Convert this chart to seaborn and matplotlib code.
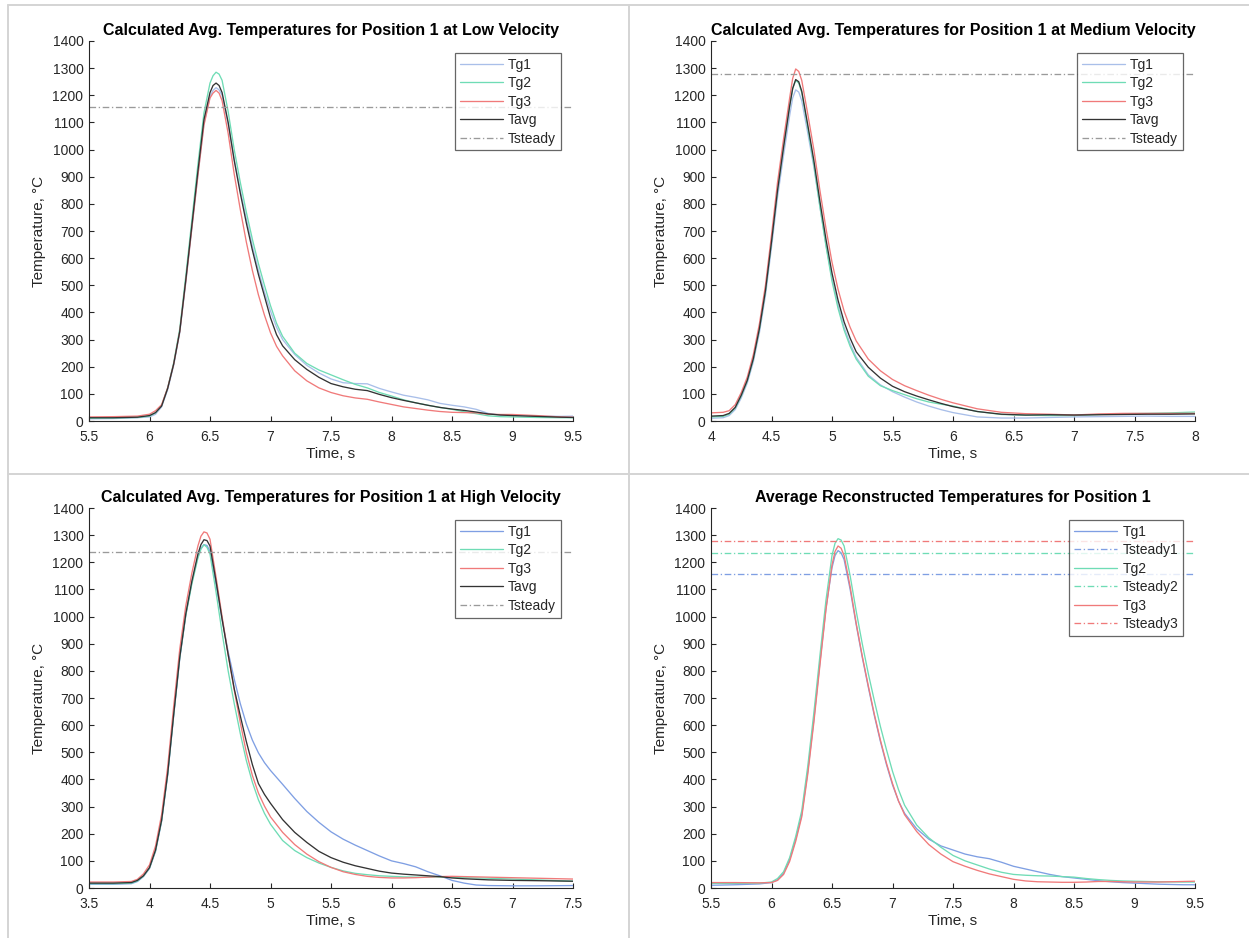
import matplotlib
matplotlib.use("Agg")
import matplotlib.pyplot as plt
from matplotlib.lines import Line2D
from matplotlib.ticker import FuncFormatter, MultipleLocator
import seaborn as sns

# ---------------- data ----------------
# Low velocity (top-left)
t_low = [5.5, 5.7, 5.9, 6.0, 6.05, 6.1, 6.15, 6.2, 6.25, 6.3, 6.35, 6.4, 6.45, 6.5, 6.525, 6.55,
         6.575, 6.6, 6.65, 6.7, 6.75, 6.8, 6.85, 6.9, 6.95, 7.0, 7.05, 7.1, 7.2, 7.3, 7.4, 7.5,
         7.6, 7.7, 7.8, 7.9, 8.0, 8.1, 8.2, 8.3, 8.4, 8.5, 8.6, 8.7, 8.8, 8.9, 9.0, 9.2, 9.4, 9.5]
low_tg1 = [8, 9, 12, 15, 25, 52, 115, 205, 325, 510, 710, 905, 1095, 1195, 1218, 1228,
           1220, 1200, 1095, 965, 850, 745, 645, 555, 475, 405, 345, 300, 245, 205, 177, 155,
           141, 138, 137, 120, 107, 95, 87, 78, 65, 58, 52, 43, 28, 22, 21, 18, 17, 18]
low_tg2 = [10, 11, 13, 18, 30, 57, 122, 215, 340, 535, 740, 945, 1135, 1245, 1272, 1285,
           1278, 1255, 1140, 1000, 880, 770, 670, 580, 500, 425, 360, 312, 250, 212, 188, 170,
           152, 135, 122, 105, 92, 78, 67, 58, 50, 43, 34, 27, 19, 16, 15, 13, 12, 12]
low_tg3 = [15, 16, 18, 25, 38, 60, 122, 210, 330, 515, 710, 905, 1090, 1190, 1208, 1218,
           1208, 1180, 1060, 910, 780, 660, 555, 465, 390, 325, 275, 240, 185, 148, 122, 105,
           93, 85, 80, 70, 61, 52, 46, 40, 35, 32, 31, 30, 25, 24, 24, 20, 15, 14]
low_tavg = [12, 12, 14, 20, 31, 55, 120, 210, 330, 520, 720, 920, 1110, 1210, 1236, 1245,
            1236, 1210, 1100, 960, 840, 730, 630, 540, 460, 380, 318, 277, 226, 190, 161, 138,
            126, 117, 112, 98, 86, 76, 67, 58, 50, 44, 39, 33, 26, 22, 20, 17, 14, 13]
low_tsteady = 1158

# Medium velocity (top-right)
t_med = [4.0, 4.1, 4.15, 4.2, 4.25, 4.3, 4.35, 4.4, 4.45, 4.5, 4.55, 4.6, 4.65, 4.675, 4.7,
         4.725, 4.75, 4.8, 4.85, 4.9, 4.95, 5.0, 5.05, 5.1, 5.15, 5.2, 5.3, 5.4, 5.5, 5.6,
         5.7, 5.8, 5.9, 6.0, 6.2, 6.4, 6.6, 6.8, 7.0, 7.2, 7.4, 7.6, 7.8, 8.0]
med_tg1 = [10, 12, 20, 42, 85, 140, 218, 325, 462, 640, 825, 980, 1125, 1190, 1220,
           1212, 1180, 1060, 935, 790, 650, 525, 425, 345, 285, 235, 170, 133, 108, 88,
           70, 55, 42, 31, 15, 11, 11, 13, 15, 16, 17, 18, 17, 17]
med_tg2 = [15, 17, 25, 48, 92, 148, 228, 338, 478, 660, 850, 1010, 1160, 1225, 1255,
           1245, 1210, 1080, 945, 790, 645, 515, 415, 335, 275, 228, 165, 130, 112, 97,
           82, 70, 62, 55, 35, 24, 21, 20, 20, 24, 27, 28, 30, 33]
med_tg3 = [30, 32, 38, 60, 105, 162, 245, 358, 500, 685, 880, 1040, 1190, 1262, 1297,
           1288, 1255, 1130, 1000, 850, 710, 585, 485, 405, 345, 295, 228, 185, 153, 130,
           112, 95, 80, 67, 45, 32, 27, 25, 22, 26, 28, 28, 28, 28]
med_tavg = [18, 20, 28, 50, 95, 150, 230, 340, 480, 660, 850, 1010, 1160, 1225, 1258,
            1250, 1215, 1090, 960, 810, 670, 545, 445, 365, 305, 255, 198, 158, 128, 108,
            92, 78, 65, 53, 35, 25, 22, 23, 22, 23, 24, 25, 25, 26]
med_tsteady = 1277

# High velocity (bottom-left)
t_high = [3.5, 3.7, 3.85, 3.9, 3.95, 4.0, 4.05, 4.1, 4.15, 4.2, 4.25, 4.3, 4.35, 4.4, 4.425,
          4.45, 4.475, 4.5, 4.55, 4.6, 4.65, 4.7, 4.75, 4.8, 4.85, 4.9, 4.95, 5.0, 5.1, 5.2,
          5.3, 5.4, 5.5, 5.6, 5.7, 5.8, 5.9, 6.0, 6.1, 6.2, 6.3, 6.4, 6.5, 6.6, 6.7, 6.8,
          7.0, 7.2, 7.5]
high_tg1 = [14, 14, 16, 24, 42, 72, 135, 245, 415, 635, 845, 1005, 1125, 1222, 1252,
            1265, 1262, 1240, 1120, 990, 870, 770, 680, 605, 545, 498, 462, 433, 382, 330,
            282, 242, 207, 180, 158, 138, 118, 100, 90, 78, 60, 45, 28, 18, 11, 9,
            8, 8, 9]
high_tg2 = [16, 16, 18, 26, 44, 74, 138, 248, 420, 640, 850, 1005, 1120, 1215, 1248,
            1265, 1255, 1230, 1090, 940, 800, 680, 570, 470, 390, 325, 275, 235, 175, 138,
            112, 92, 76, 63, 54, 49, 45, 43, 41, 40, 40, 40, 39, 38, 37, 36,
            33, 30, 25]
high_tg3 = [22, 22, 24, 32, 52, 85, 155, 270, 445, 670, 880, 1040, 1160, 1260, 1296,
            1312, 1308, 1285, 1145, 1000, 860, 730, 610, 500, 415, 350, 302, 262, 205, 160,
            125, 97, 76, 60, 50, 43, 39, 37, 37, 38, 40, 42, 43, 42, 41, 40,
            38, 36, 33]
high_tavg = [18, 18, 20, 28, 45, 75, 140, 250, 420, 640, 850, 1010, 1130, 1230, 1265,
             1283, 1280, 1260, 1130, 990, 860, 735, 635, 540, 455, 385, 345, 312, 252, 205,
             168, 135, 112, 95, 82, 72, 62, 55, 51, 48, 45, 42, 37, 34, 32, 30,
             28, 27, 25]
high_tsteady = 1237

# Average reconstructed (bottom-right)
t_rec = t_low
rec_tg1 = [10, 12, 15, 20, 30, 55, 105, 180, 270, 430, 620, 830, 1030, 1180, 1225, 1243,
           1235, 1210, 1100, 970, 850, 740, 635, 540, 455, 380, 320, 275, 218, 180, 155, 140,
           125, 115, 108, 95, 80, 70, 60, 50, 42, 37, 32, 27, 23, 20, 18, 14, 12, 12]
rec_tg2 = [17, 17, 18, 22, 35, 60, 112, 190, 285, 450, 645, 855, 1060, 1225, 1270, 1287,
           1282, 1260, 1150, 1020, 900, 790, 690, 595, 510, 430, 362, 305, 232, 185, 150, 120,
           100, 85, 70, 58, 50, 47, 45, 44, 42, 40, 35, 31, 28, 26, 25, 23, 22, 22]
rec_tg3 = [20, 20, 19, 20, 28, 50, 98, 172, 262, 420, 610, 820, 1025, 1190, 1240, 1260,
           1252, 1225, 1110, 975, 855, 745, 640, 545, 460, 385, 320, 270, 208, 160, 125, 97,
           80, 65, 52, 42, 32, 26, 23, 22, 21, 21, 22, 24, 24, 23, 22, 22, 24, 25]
rec_tsteady = [1157, 1236, 1277]

titles = ["Calculated Avg. Temperatures for Position 1 at Low Velocity",
          "Calculated Avg. Temperatures for Position 1 at Medium Velocity",
          "Calculated Avg. Temperatures for Position 1 at High Velocity",
          "Average Reconstructed Temperatures for Position 1"]
xlabel = "Time, s"
ylabel = "Temperature, °C"

# ---------------- style ----------------
sns.set_theme(style="white")
plt.rcParams["font.family"] = ["Liberation Sans", "DejaVu Sans"]
TXT = "#262626"
C_TG1_PALE = "#a9bfe9"
C_TG1 = "#7f9fe3"
C_TG2 = "#6fdcb5"
C_TG3 = "#f07a7a"
C_AVG = "#333333"
C_ST = "#9a9a9a"
LW = 0.95
DASHDOT = (0, (5, 2, 1, 2))

W, H = 1249, 938
fig = plt.figure(figsize=(W / 100, H / 100), dpi=100)
fig.patch.set_facecolor("white")


def make_ax(left, top, xlim):
    ax = fig.add_axes([left / W, 1 - (top + 380) / H, 484 / W, 380 / H])
    ax.set_xlim(*xlim)
    ax.set_ylim(0, 1400)
    ax.yaxis.set_major_locator(MultipleLocator(100))
    ax.xaxis.set_major_locator(MultipleLocator(0.5))
    ax.xaxis.set_major_formatter(FuncFormatter(lambda v, p: f"{v:g}"))
    for s in ["top", "right"]:
        ax.spines[s].set_visible(False)
    for s in ["left", "bottom"]:
        ax.spines[s].set_color(TXT)
        ax.spines[s].set_linewidth(0.8)
    ax.tick_params(direction="in", length=3.5, width=0.8, colors=TXT,
                   labelsize=10, left=True, bottom=True)
    ax.tick_params(axis="y", pad=4)
    ax.tick_params(axis="x", pad=6.5)
    return ax


def finish(ax, title):
    ax.set_title(title, fontsize=11.5, fontweight="bold", color="black", pad=4)
    ax.set_xlabel(xlabel, fontsize=11, color=TXT, labelpad=2)
    ax.set_ylabel(ylabel, fontsize=11, color=TXT, labelpad=5)
    leg = ax.legend(loc="upper right", bbox_to_anchor=(1 - 12 / 484, 1 - 12 / 380),
                    borderaxespad=0, fancybox=False, frameon=True, fontsize=10,
                    handlelength=3.1, handletextpad=0.4, labelspacing=0.32,
                    borderpad=0.35)
    leg.get_frame().set_edgecolor("#404040")
    leg.get_frame().set_linewidth(0.9)
    for txt in leg.get_texts():
        txt.set_color(TXT)


def single_panel(ax, t, tg1, tg2, tg3, tavg, tsteady, title, c1):
    sns.lineplot(x=t, y=tg1, ax=ax, color=c1, lw=LW, label="Tg1")
    sns.lineplot(x=t, y=tg2, ax=ax, color=C_TG2, lw=LW, label="Tg2")
    sns.lineplot(x=t, y=tg3, ax=ax, color=C_TG3, lw=LW, label="Tg3")
    sns.lineplot(x=t, y=tavg, ax=ax, color=C_AVG, lw=LW, label="Tavg")
    ax.axhline(tsteady, color=C_ST, lw=LW, ls=DASHDOT, label="Tsteady")
    finish(ax, title)


ax1 = make_ax(89, 41, (5.5, 9.5))
single_panel(ax1, t_low, low_tg1, low_tg2, low_tg3, low_tavg, low_tsteady, titles[0], C_TG1_PALE)

ax2 = make_ax(711, 41, (4, 8))
single_panel(ax2, t_med, med_tg1, med_tg2, med_tg3, med_tavg, med_tsteady, titles[1], C_TG1_PALE)

ax3 = make_ax(89, 508, (3.5, 7.5))
single_panel(ax3, t_high, high_tg1, high_tg2, high_tg3, high_tavg, high_tsteady, titles[2], C_TG1)

ax4 = make_ax(711, 508, (5.5, 9.5))
sns.lineplot(x=t_rec, y=rec_tg1, ax=ax4, color=C_TG1, lw=LW, label="Tg1")
ax4.axhline(rec_tsteady[0], color=C_TG1, lw=LW, ls=DASHDOT, label="Tsteady1")
sns.lineplot(x=t_rec, y=rec_tg2, ax=ax4, color=C_TG2, lw=LW, label="Tg2")
ax4.axhline(rec_tsteady[1], color=C_TG2, lw=LW, ls=DASHDOT, label="Tsteady2")
sns.lineplot(x=t_rec, y=rec_tg3, ax=ax4, color=C_TG3, lw=LW, label="Tg3")
ax4.axhline(rec_tsteady[2], color=C_TG3, lw=LW, ls=DASHDOT, label="Tsteady3")
finish(ax4, titles[3])

# panel separators (page grid)
SEP = "#d4d4d4"
fig.add_artist(Line2D([629 / W, 629 / W], [0, 1 - 5 / H], transform=fig.transFigure, color=SEP, lw=1.4))
fig.add_artist(Line2D([8 / W, 1], [1 - 474 / H, 1 - 474 / H], transform=fig.transFigure, color=SEP, lw=1.4))
fig.add_artist(Line2D([8 / W, 8 / W], [0, 1 - 5 / H], transform=fig.transFigure, color=SEP, lw=1.4))
fig.add_artist(Line2D([8 / W, 1], [1 - 5 / H, 1 - 5 / H], transform=fig.transFigure, color=SEP, lw=1.4))

fig.savefig("out.png", dpi=100, facecolor="white")
